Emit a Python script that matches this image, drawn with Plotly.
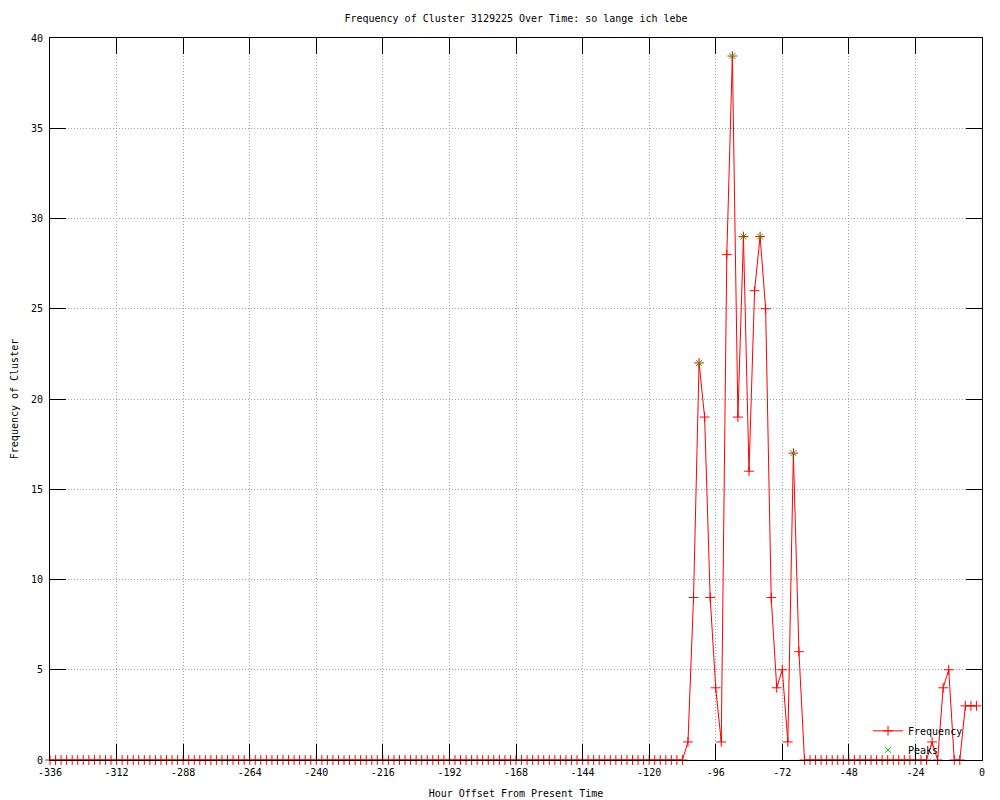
import plotly.graph_objects as go

# Hour offsets (every 2 hours from -336 to -2)
hours = list(range(-336, 0, 2))

# Frequency of cluster at each hour offset
frequency = [
    0, 0, 0, 0, 0, 0, 0, 0, 0, 0, 0, 0,
    0, 0, 0, 0, 0, 0, 0, 0, 0, 0, 0, 0,
    0, 0, 0, 0, 0, 0, 0, 0, 0, 0, 0, 0,
    0, 0, 0, 0, 0, 0, 0, 0, 0, 0, 0, 0,
    0, 0, 0, 0, 0, 0, 0, 0, 0, 0, 0, 0,
    0, 0, 0, 0, 0, 0, 0, 0, 0, 0, 0, 0,
    0, 0, 0, 0, 0, 0, 0, 0, 0, 0, 0, 0,
    0, 0, 0, 0, 0, 0, 0, 0, 0, 0, 0, 0,
    0, 0, 0, 0, 0, 0, 0, 0, 0, 0, 0, 0,
    0, 0, 0, 0, 0, 0, 0, 1, 9, 22, 19, 9,
    4, 1, 28, 39, 19, 29, 16, 26, 29, 25, 9, 4,
    5, 1, 17, 6, 0, 0, 0, 0, 0, 0, 0, 0,
    0, 0, 0, 0, 0, 0, 0, 0, 0, 0, 0, 0,
    0, 0, 0, 1, 0, 4, 5, 0, 0, 3, 3, 3,
]

# Detected peaks
peak_hours = [-102, -90, -86, -80, -68]
peak_values = [22, 39, 29, 29, 17]

# Axis ticks
x_ticks = list(range(-336, 1, 24))
y_ticks = list(range(0, 41, 5))

FONT = "DejaVu Sans Mono"

fig = go.Figure()
fig.add_trace(go.Scatter(
    x=hours, y=frequency, name="Frequency", mode="lines+markers",
    line=dict(color="#ff0000", width=1),
    marker=dict(symbol="cross-thin", size=7, color="#ff0000",
                line=dict(color="#ff0000", width=1)),
    cliponaxis=False,
))
fig.add_trace(go.Scatter(
    x=peak_hours, y=peak_values, name="Peaks", mode="markers",
    marker=dict(symbol="x-thin", size=6, color="#00c000",
                line=dict(color="#00c000", width=1)),
    cliponaxis=False,
))

axis_common = dict(
    showline=True, linecolor="black", linewidth=1, mirror="ticks",
    ticks="inside", ticklen=16, tickwidth=1, tickcolor="black",
    showgrid=True, gridcolor="#a0a0a0", gridwidth=1, griddash="1px,2px",
    zeroline=False,
    tickfont=dict(family=FONT, size=10, color="black"),
)

fig.update_xaxes(
    range=[-336, 0], tickmode="array", tickvals=x_ticks,
    ticktext=[str(v) for v in x_ticks],
    title=dict(text="Hour Offset From Present Time", standoff=12,
               font=dict(family=FONT, size=10, color="black")),
    ticklabelstandoff=3,
    **axis_common,
)
fig.update_yaxes(
    range=[0, 40], tickmode="array", tickvals=y_ticks,
    ticktext=[str(v) for v in y_ticks],
    title=dict(text="Frequency of Cluster", standoff=10,
               font=dict(family=FONT, size=10, color="black")),
    ticklabelstandoff=4,
    **axis_common,
)

fig.update_layout(
    width=1000, height=800,
    margin=dict(l=50, r=18, t=38, b=40, autoexpand=False),
    paper_bgcolor="white", plot_bgcolor="white",
    font=dict(family=FONT, size=10, color="black"),
    title=dict(text="Frequency of Cluster 3129225 Over Time: so lange ich lebe",
               x=0.5, xref="paper", xanchor="center",
               y=1 - 18 / 800, yref="container", yanchor="middle",
               font=dict(family=FONT, size=10, color="black")),
    legend=dict(x=0.985, xanchor="right", y=-0.006, yanchor="bottom",
                bgcolor="rgba(0,0,0,0)", borderwidth=0,
                font=dict(family=FONT, size=10, color="black")),
    showlegend=True,
    hovermode=False,
)

fig.write_html("out.html", config={"displayModeBar": False},
               post_script="document.body.style.margin='0px';")
